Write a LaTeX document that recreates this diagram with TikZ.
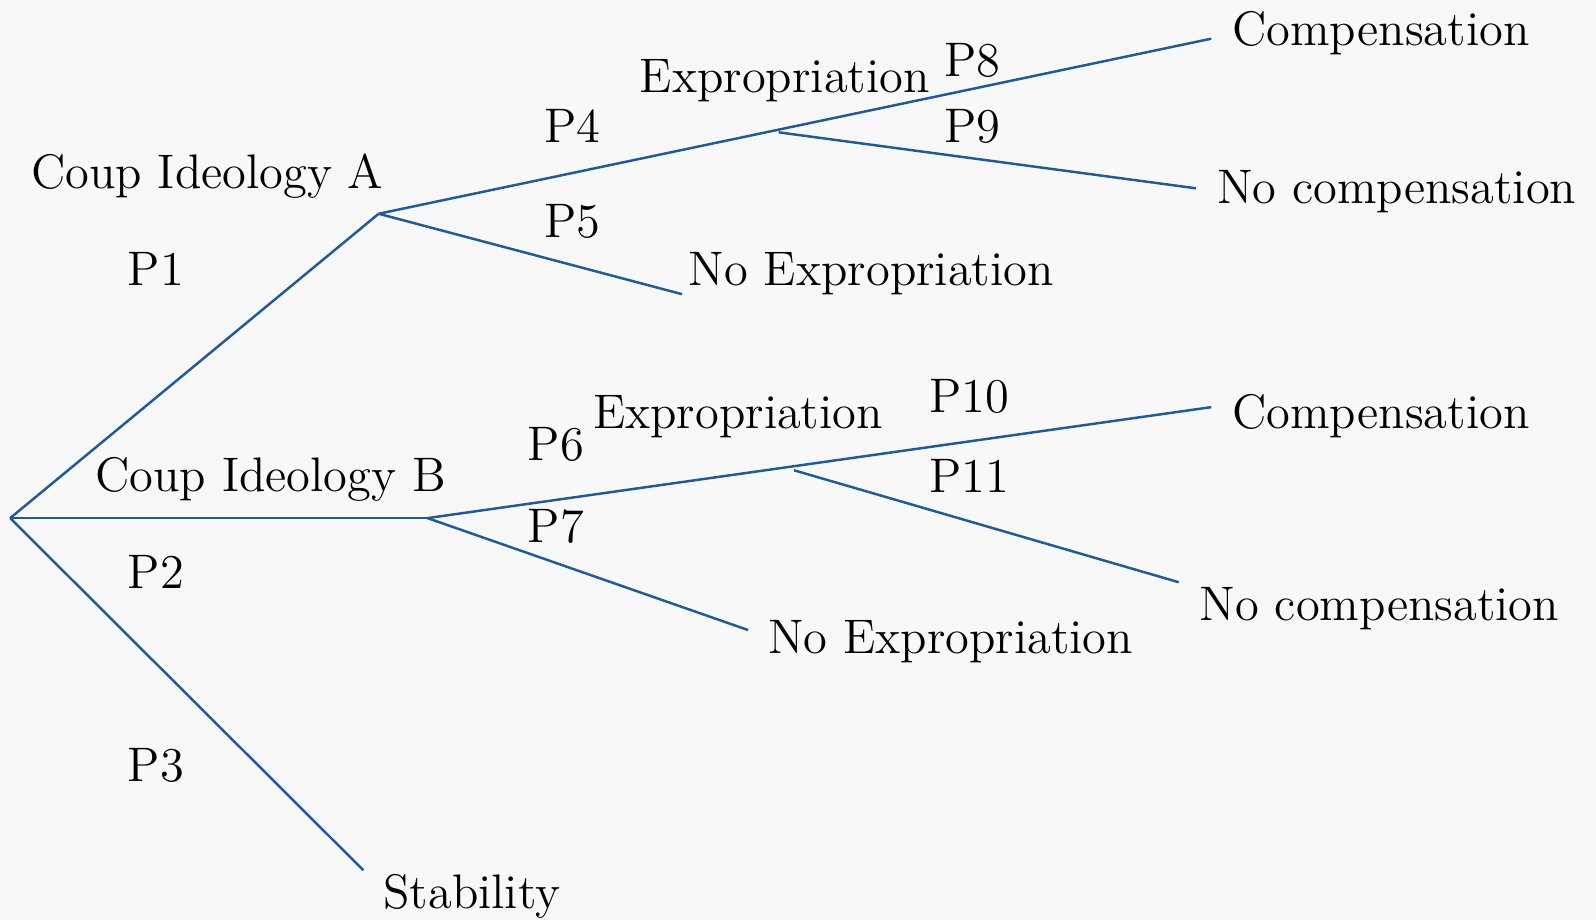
\documentclass[tikz,border=0pt]{standalone}
\usepackage{xcolor}
\definecolor{branchblue}{HTML}{1F5A9E}
\definecolor{paper}{HTML}{F8F8F8}

\begin{document}
\begin{tikzpicture}[x=0.01018cm,y=-0.01018cm]
        \tikzset{label/.style = {anchor=base west,inner sep=0pt,font=\fontsize{13.8}{16}\selectfont}}
        \tikzset{branch/.style = {line width=0.7pt, draw = branchblue}}
        \fill[paper] (0,0) rectangle (1568,904);
        \useasboundingbox (0,0) rectangle (1568,904);
        % points of the tree
        \coordinate (root) at (10,509);
        \coordinate (a) at (372,210);
        \coordinate (b) at (420,509);
        \coordinate (stab) at (357,855);
        \coordinate (acomp) at (1190,38);
        \coordinate (asplit) at (765,130);
        \coordinate (anocomp) at (1175,185);
        \coordinate (anoexp) at (670,289);
        \coordinate (bcomp) at (1190,400);
        \coordinate (bsplit) at (780,462);
        \coordinate (bnocomp) at (1158,572);
        \coordinate (bnoexp) at (735,619);

        % labels
        \node[label] (lA) at (30,185) {Coup Ideology A};
        \node[label] (p1) at (125,280) {P1};
        \node[label] (lB) at (93,483) {Coup Ideology B};
        \node[label] (p2) at (125,578) {P2};
        \node[label] (p3) at (125,768) {P3};
        \node[label] (lstab) at (376,893) {Stability};
        \node[label] (p4) at (534,140) {P4};
        \node[label] (p5) at (534,233) {P5};
        \node[label] (lexpa) at (628,91) {Expropriation};
        \node[label] (p8) at (927,75) {P8};
        \node[label] (p9) at (927,140) {P9};
        \node[label] (lcompa) at (1210,45) {Compensation};
        \node[label] (lnocompa) at (1195,200) {No compensation};
        \node[label] (lnoexpa) at (676,280) {No Expropriation};
        \node[label] (p6) at (518,452) {P6};
        \node[label] (p7) at (518,533) {P7};
        \node[label] (lexpb) at (582,421) {Expropriation};
        \node[label] (p10) at (912,405) {P10};
        \node[label] (p11) at (912,484) {P11};
        \node[label] (lcompb) at (1210,421) {Compensation};
        \node[label] (lnocompb) at (1178,610) {No compensation};
        \node[label] (lnoexpb) at (754,642) {No Expropriation};

        % branches
        \draw[branch] (root) -- (a);
        \draw[branch] (root) -- (b);
        \draw[branch] (root) -- (stab);
        \draw[branch] (a) -- (acomp);
        \draw[branch] (asplit) -- (anocomp);
        \draw[branch] (a) -- (anoexp);
        \draw[branch] (b) -- (bcomp);
        \draw[branch] (bsplit) -- (bnocomp);
        \draw[branch] (b) -- (bnoexp);
\end{tikzpicture}
\end{document}
